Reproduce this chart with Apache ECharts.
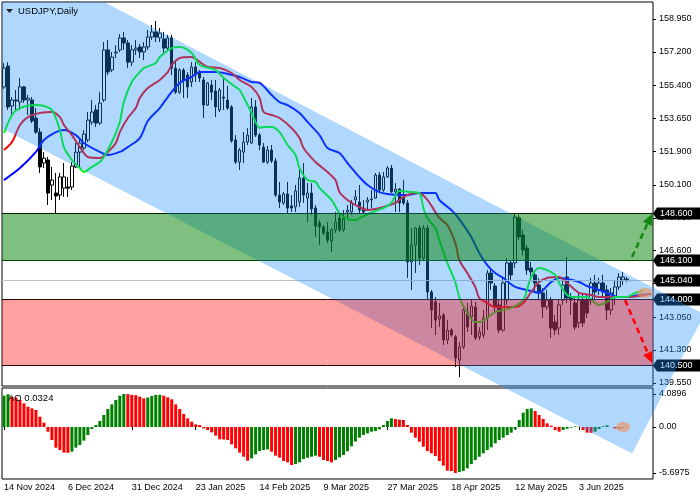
<!DOCTYPE html>
<html><head><meta charset="utf-8">
<script src="https://cdn.jsdelivr.net/npm/echarts@6/dist/echarts.min.js"></script>
<style>html,body{margin:0;padding:0;background:#fff}#c{width:700px;height:500px}</style>
</head><body><div id="c"></div>
<script>
// ---------- data ----------
const tickLabels = ["14 Nov 2024","6 Dec 2024","31 Dec 2024","23 Jan 2025","14 Feb 2025","9 Mar 2025","27 Mar 2025","18 Apr 2025","12 May 2025","3 Jun 2025"];
const priceTicks = [158.95,157.2,155.4,153.65,151.9,150.1,148.35,146.6,144.85,143.05,141.3,139.55];
const aoTicks = [4.0896,0,-5.6975];
// [open, close, low, high]
const candles = [
[155.33,156.33,155.22,156.60],[156.44,154.26,154.10,156.65],[154.31,154.63,153.83,154.79],[154.63,154.58,154.10,155.16],
[154.52,155.33,154.10,155.80],[155.33,154.63,154.47,155.38],[154.63,154.73,153.83,154.90],[154.63,153.51,153.40,154.79],
[153.67,152.92,152.82,154.20],[152.92,151.06,150.74,153.13],[151.27,151.53,151.00,151.85],[151.43,149.67,149.03,151.59],
[150.09,150.36,149.30,151.06],[149.67,149.51,148.60,150.74],[149.56,150.53,149.30,150.74],[149.93,150.53,149.46,151.27],
[149.99,149.93,149.46,150.53],[149.99,151.11,149.83,151.32],[151.06,151.85,151.00,152.34],[151.85,152.34,151.06,152.61],
[152.07,152.82,151.96,153.03],[152.50,153.56,152.39,153.99],[153.45,153.99,153.30,154.63],[154.10,153.40,153.19,154.36],
[153.40,154.47,153.30,155.05],[154.63,157.30,154.52,157.72],[157.30,156.12,155.96,157.83],[156.23,156.92,156.12,157.19],
[157.14,157.19,156.87,157.56],[157.30,157.94,157.19,158.15],[157.94,157.67,157.30,158.26],[157.67,156.65,156.33,157.83],
[156.65,157.30,156.44,157.56],[157.30,157.40,157.03,157.83],[157.46,157.19,156.87,157.62],[157.19,157.46,156.76,157.72],
[157.46,157.99,157.30,158.36],[157.99,158.26,157.83,158.63],[158.26,157.99,157.72,158.84],[157.94,158.20,157.72,158.47],
[157.88,157.40,157.03,158.26],[157.40,157.94,157.30,158.10],[157.94,156.33,155.96,158.10],[156.33,155.05,154.95,156.65],
[155.05,156.23,154.95,156.33],[156.23,155.70,154.74,156.33],[155.96,155.33,154.74,156.12],[155.59,156.39,155.33,156.65],
[156.39,155.96,155.59,156.65],[156.07,155.80,155.59,156.23],[155.70,154.36,153.67,155.86],[154.36,155.54,154.31,155.59],
[155.43,155.05,154.63,155.70],[155.11,154.26,153.72,155.70],[154.10,155.16,153.99,155.27],[154.79,154.73,154.10,155.80],
[154.63,154.20,154.10,155.38],[154.26,152.45,152.34,154.36],[152.50,151.32,151.22,152.76],[151.32,151.96,150.90,152.07],
[151.85,152.39,151.27,152.92],[152.39,152.76,152.23,153.13],[152.34,154.26,152.30,154.74],[154.26,152.76,152.66,154.63],
[152.76,152.23,151.96,152.87],[152.12,151.32,151.27,152.34],[151.32,151.96,151.22,152.18],[151.96,151.38,151.27,152.23],
[151.38,149.56,149.46,151.53],[149.56,149.19,148.87,150.26],[149.14,149.62,149.03,149.73],[149.62,148.87,148.60,150.26],
[148.98,148.87,148.66,149.56],[148.93,149.78,148.66,150.10],[149.19,150.47,148.93,151.00],[150.47,149.56,149.14,151.27],
[149.40,149.67,148.12,150.20],[149.67,148.82,148.50,150.20],[148.87,147.91,147.33,149.03],[148.07,147.86,146.90,148.23],
[147.86,147.54,147.43,147.96],[147.59,147.16,147.00,148.12],[147.11,147.70,146.53,147.80],[147.70,148.12,147.54,148.66],
[148.34,147.70,147.59,148.66],[147.70,148.28,147.59,148.76],[148.66,148.76,148.34,149.03],[148.66,149.14,148.50,149.30],
[149.30,149.46,149.03,149.83],[149.19,148.76,148.60,150.10],[148.87,148.66,148.60,149.30],[149.19,149.30,148.76,149.46],
[149.30,149.35,148.87,149.83],[149.40,150.63,149.35,150.74],[150.63,149.83,149.73,150.79],[149.83,150.53,149.73,150.79],
[150.53,151.00,150.47,151.11],[151.00,149.73,149.67,151.16],[149.73,149.88,148.66,150.20],[149.88,149.14,148.66,149.93],
[149.46,149.14,149.03,150.36],[149.14,145.99,145.14,149.30],[145.99,146.90,144.50,147.80],[146.90,147.80,145.40,147.86],
[147.80,146.20,145.83,147.96],[146.20,147.80,146.04,147.96],[147.80,144.39,143.96,147.96],[144.39,143.43,142.47,144.50],
[143.86,142.90,142.10,144.12],[142.95,143.11,142.52,143.80],[143.16,141.83,141.56,143.27],[141.83,142.36,141.62,142.90],
[142.36,142.10,142.00,142.47],[142.00,140.87,140.39,142.10],[140.76,141.46,139.85,141.72],[141.46,143.43,141.35,143.70],
[143.32,142.52,142.26,143.80],[143.06,143.64,142.10,143.96],[143.59,141.94,141.83,143.86],[142.00,142.26,141.83,142.52],
[142.10,143.00,141.94,143.43],[143.00,145.40,142.36,145.56],[145.40,144.87,144.50,145.56],[144.71,143.59,143.32,144.87],
[143.70,142.36,142.20,143.96],[142.36,144.87,142.26,145.14],[143.96,145.94,143.70,146.20],[145.94,145.30,145.03,146.10],
[145.94,148.39,145.67,148.55],[148.34,147.33,147.16,148.50],[147.43,146.63,146.36,147.70],[146.74,145.56,145.30,146.90],
[145.67,145.46,145.14,145.99],[145.30,144.87,144.39,145.56],[144.76,144.34,143.96,145.14],[144.34,143.59,143.00,144.60],
[143.59,143.96,143.43,144.50],[143.96,142.47,141.94,144.12],[142.79,142.36,142.10,143.16],[142.47,143.70,142.10,143.96],
[143.96,144.76,143.70,145.14],[145.19,144.07,143.80,146.26],[144.12,143.96,143.16,144.34],[143.80,142.52,142.36,144.07],
[142.74,143.96,142.47,144.34],[143.96,142.74,142.52,144.34],[143.96,143.27,143.00,144.23],[143.96,144.87,143.70,145.14],
[144.87,144.39,143.96,145.30],[144.50,144.87,144.23,145.14],[144.87,144.39,144.07,145.30],[144.50,143.43,142.90,144.76],
[143.43,144.34,143.16,144.60],[144.12,144.66,143.70,145.03],[144.66,145.19,144.50,145.40],[145.03,145.19,144.76,145.46],
[145.08,145.04,144.93,145.19]
];
// moving averages: [bar index, price]
const greenLine = [[0,152.87],[2,153.83],[4,154.20],[8,154.36],[10,154.31],[12,154.10],[14,153.03],[15,152.12],[17,151.43],[19,151.00],[20,150.79],[22,151.06],[24,151.32],[25,151.59],[27,152.39],[29,153.46],[30,154.52],[32,155.59],[34,156.12],[35,156.33],[38,156.60],[39,156.92],[42,157.40],[44,157.46],[47,157.14],[49,156.50],[53,156.23],[55,155.80],[58,155.32],[59,155.16],[61,154.36],[62,153.94],[64,153.14],[65,153.19],[67,153.19],[69,152.92],[71,152.23],[73,151.70],[74,151.00],[76,150.36],[78,150.26],[79,149.94],[82,149.30],[84,148.60],[86,148.28],[88,148.23],[90,148.44],[93,148.71],[95,148.87],[97,149.14],[99,149.78],[102,149.72],[104,149.67],[105,148.87],[106,148.34],[108,147.80],[109,147.16],[111,145.94],[113,144.92],[114,144.12],[116,143.27],[118,142.79],[119,142.79],[123,143.32],[127,143.54],[130,143.96],[132,145.19],[134,145.67],[136,145.56],[138,145.30],[139,144.87],[141,144.23],[143,144.12],[146,144.12],[148,143.80],[149,143.70],[151,143.86],[153,144.12],[156,144.12],[158,144.34],[160,144.44]];
const redLine = [[0,151.96],[2,152.39],[4,153.30],[6,153.72],[9,153.94],[12,153.99],[14,153.72],[15,153.30],[17,152.76],[19,152.12],[21,151.59],[24,151.54],[26,151.86],[28,152.34],[29,152.92],[31,153.67],[33,154.20],[34,154.74],[36,155.27],[39,155.70],[41,156.12],[42,156.50],[44,156.87],[47,156.92],[49,156.66],[51,156.39],[54,156.34],[57,156.07],[59,155.70],[62,155.32],[64,154.74],[65,153.99],[67,153.83],[69,153.67],[72,153.14],[74,152.60],[75,152.07],[78,151.32],[81,150.79],[83,150.36],[84,149.72],[86,149.30],[89,148.92],[91,148.76],[93,148.82],[95,148.92],[98,149.14],[100,149.46],[103,149.67],[104,149.67],[106,149.30],[108,148.66],[109,148.34],[111,147.96],[113,147.00],[114,146.10],[116,145.40],[118,144.66],[119,144.07],[121,143.80],[123,143.59],[128,143.59],[130,143.80],[132,144.39],[134,144.92],[136,145.14],[139,145.19],[141,144.87],[143,144.50],[144,144.34],[147,144.23],[149,144.12],[156,144.12],[161,144.23]];
const blueLine = [[0,150.36],[4,151.00],[8,151.86],[10,152.50],[13,152.92],[15,153.03],[18,152.76],[20,152.34],[24,151.86],[26,151.70],[29,151.86],[31,152.12],[34,152.60],[36,153.51],[39,154.20],[41,154.79],[44,155.54],[47,155.86],[49,156.12],[53,156.12],[56,156.02],[59,155.86],[62,155.59],[64,155.54],[67,154.90],[69,154.52],[71,154.36],[74,153.94],[76,153.46],[79,152.76],[81,152.07],[84,151.80],[86,151.27],[89,150.52],[91,150.10],[94,149.72],[96,149.62],[99,149.56],[101,149.56],[104,149.67],[108,149.67],[109,149.30],[112,148.76],[114,148.28],[117,147.32],[119,146.47],[121,145.83],[123,145.40],[125,145.14],[128,144.66],[131,144.50],[134,144.34],[135,144.50],[137,144.92],[139,145.14],[141,145.08],[144,144.92],[146,144.71],[149,144.50],[151,144.34],[154,144.12],[156,144.12],[159,144.23],[162,144.28]];
const aoValues = [3.88,4.05,3.76,3.64,3.35,2.93,2.52,2.31,2.11,1.28,0.54,-0.58,-1.61,-2.56,-2.85,-3.18,-3.20,-3.06,-2.56,-2.23,
-1.69,-0.99,-0.25,0.25,0.74,1.49,2.23,2.81,3.35,3.88,4.09,4.08,3.97,3.95,3.76,3.55,3.64,3.84,3.97,3.98,
3.88,3.68,3.43,2.81,2.23,1.61,1.07,0.66,0.33,0.25,-0.17,-0.37,-0.66,-1.07,-1.53,-1.55,-1.61,-2.15,-2.64,-3.18,
-3.68,-4.17,-3.88,-3.39,-2.98,-2.85,-2.77,-3.06,-3.55,-3.80,-4.21,-4.38,-4.71,-4.59,-4.38,-3.97,-3.80,-3.68,-3.55,-3.68,
-4.09,-4.21,-4.38,-4.09,-3.76,-3.47,-3.00,-2.40,-1.80,-1.32,-0.99,-0.79,-0.58,-0.50,-0.29,0.25,0.74,1.07,0.99,0.91,
0.87,0.25,-0.70,-1.32,-1.82,-2.44,-2.98,-3.26,-3.60,-4.21,-4.79,-5.41,-5.45,-5.6975,-5.58,-5.45,-5.12,-4.59,-4.09,-3.68,
-3.26,-2.85,-2.52,-2.02,-1.61,-1.32,-0.99,-0.70,-0.29,0.87,1.78,2.23,2.31,1.98,1.49,0.99,0.45,0.17,-0.37,-0.58,
-0.37,-0.21,-0.08,0.08,0.04,-0.37,-0.70,-0.72,-0.58,-0.25,0.08,0.21,0.00,-0.17,-0.21,-0.12,0.0324];
const buyZone = [148.6, 146.1];
const sellZone = [144.0, 140.5];
const lastPrice = 145.04;
const priceBoxes = [148.6, 146.1, 145.04, 144.0, 140.5];
const channelUpper = [[0,162.63],[150,146.01]];
const channelLower = [[0,153.06],[150,136.58]];
const channelEndBar = 157.25;
const upArrow = [[157.25,146.26],[162.25,148.55]];
const downArrow = [[155.5,143.96],[162.25,140.60]];
const mainMark = [160.5,144.34];
const aoMark = [155,0];
const nBars = 163;

// ---------- chart ----------
const FONT = '"Liberation Sans", Arial, sans-serif';
const cats = Array.from({length:nBars}, (_, i) => String(i));
const chart = echarts.init(document.getElementById('c'), null, {renderer:'canvas'});
const showTick = (idx) => idx % 16 === 0 && idx / 16 < tickLabels.length;
const aoData = aoValues.map((v, i) => ({
  value: v,
  itemStyle: {color: (i === 0 || v > aoValues[i-1]) ? '#008000' : '#ff0000'}
}));
chart.setOption({
  animation: false,
  grid: [
    {left:2, top:2, width:651, height:384, show:true, borderColor:'#000', borderWidth:1, backgroundColor:'#fff'},
    {left:2, top:388, width:651, height:91, show:true, borderColor:'#000', borderWidth:1, backgroundColor:'#fff'}
  ],
  xAxis: [
    {type:'category', gridIndex:0, data:cats, boundaryGap:true, axisLine:{show:false}, axisTick:{show:false}, axisLabel:{show:false}},
    {type:'category', gridIndex:1, data:cats, boundaryGap:true, axisLine:{show:false},
     axisTick:{show:true, interval:showTick, alignWithLabel:true, length:3, lineStyle:{color:'#000'}},
     axisLabel:{show:true, interval:showTick, formatter:(v, idx) => tickLabels[idx/16], align:'left', margin:4,
       color:'#000', fontSize:9, fontFamily:FONT}}
  ],
  yAxis: [
    {type:'value', gridIndex:0, position:'right', min:139.377, max:159.857, splitLine:{show:false}, axisLine:{show:false},
     axisTick:{show:true, customValues:priceTicks, length:3, lineStyle:{color:'#000'}},
     axisLabel:{customValues:priceTicks, formatter:(v) => v.toFixed(3), color:'#000', fontSize:9, fontFamily:FONT, margin:6}},
    {type:'value', gridIndex:1, position:'right', min:-6.44, max:4.83, splitLine:{show:false}, axisLine:{show:false},
     axisTick:{show:true, customValues:aoTicks, length:3, lineStyle:{color:'#000'}},
     axisLabel:{customValues:aoTicks, formatter:(v) => v === 0 ? '0.00' : String(v), color:'#000', fontSize:9, fontFamily:FONT, margin:6}}
  ],
  series: [
    {type:'candlestick', xAxisIndex:0, yAxisIndex:0, data:candles, barWidth:3, z:2,
     itemStyle:{color:'rgba(0,0,0,0)', color0:'#000', borderColor:'#000', borderColor0:'#000', borderWidth:1}},
    {type:'line', xAxisIndex:0, yAxisIndex:0, data:blueLine, showSymbol:false, smooth:0.3, z:3, lineStyle:{color:'#0000ff', width:2}},
    {type:'line', xAxisIndex:0, yAxisIndex:0, data:redLine, showSymbol:false, smooth:0.3, z:3, lineStyle:{color:'#ff0000', width:2}},
    {type:'line', xAxisIndex:0, yAxisIndex:0, data:greenLine, showSymbol:false, smooth:0.3, z:3, lineStyle:{color:'#00ff00', width:2}},
    {type:'bar', xAxisIndex:1, yAxisIndex:1, data:aoData, barWidth:3, z:2}
  ]
});

function px(i, p, osc) {
  const f = osc ? {xAxisIndex:1, yAxisIndex:1} : {xAxisIndex:0, yAxisIndex:0};
  const i0 = Math.floor(i), fr = i - i0;
  const a = chart.convertToPixel(f, [i0, p]);
  const b = chart.convertToPixel(f, [i0 + 1, p]);
  return [a[0] + (b[0] - a[0]) * fr, a[1]];
}
const L = 2, R = 653, T = 2;
const g = [];
// price label boxes (under channel)
priceBoxes.forEach(p => {
  const y = Math.round(px(0, p)[1]) + 0.5;
  g.push({type:'polygon', z:5, silent:true, shape:{points:[[R,y],[657,y-6],[700,y-6],[700,y+6],[657,y+6]]}, style:{fill:'#000'}});
  g.push({type:'text', z:6, silent:true, style:{text:p.toFixed(3), x:660, y:y, fill:'#fff', font:'9px ' + FONT, textVerticalAlign:'middle'}});
});
// last price line
{ const y = Math.round(px(0, lastPrice)[1]) + 0.5;
  g.push({type:'line', z:10, silent:true, shape:{x1:L, y1:y, x2:R, y2:y}, style:{stroke:'#c0c0c0', lineWidth:1}}); }
// zone border lines
[[buyZone[0],'#000'],[buyZone[1],'#003300'],[sellZone[0],'#000'],[sellZone[1],'#000']].forEach(([p,c]) => {
  const y = Math.round(px(0, p)[1]) + 0.5;
  g.push({type:'line', z:15, silent:true, shape:{x1:L, y1:y, x2:R, y2:y}, style:{stroke:c, lineWidth:1}});
});
// channel
{
  const u0 = px(channelUpper[0][0], channelUpper[0][1]), u1 = px(channelUpper[1][0], channelUpper[1][1]);
  const l0 = px(channelLower[0][0], channelLower[0][1]), l1 = px(channelLower[1][0], channelLower[1][1]);
  const m = (u1[1] - u0[1]) / (u1[0] - u0[0]);
  const ml = (l1[1] - l0[1]) / (l1[0] - l0[0]);
  const yU = x => u0[1] + (x - u0[0]) * m;
  const yL = x => l0[1] + (x - l0[0]) * ml;
  const xTop = u0[0] + (T - u0[1]) / m;
  const xD = px(channelEndBar, 0)[0];
  const D = [xD, yL(xD)];
  const t = (D[1] - yU(xD)) / (1 + m * m);
  const E = [xD + t * m, D[1] - t];
  g.push({type:'polygon', z:20, silent:true,
    shape:{points:[[L,T],[xTop,T],E,D,[L,yL(L)]]}, style:{fill:'rgba(30,144,255,0.35)'}});
}
// zones fills
[[buyZone,'rgba(0,128,0,0.5)'],[sellZone,'rgba(255,0,0,0.37)']].forEach(([z,c]) => {
  const y1 = Math.round(px(0, z[0])[1]) + 0.5, y2 = Math.round(px(0, z[1])[1]) + 0.5;
  g.push({type:'rect', z:30, silent:true, shape:{x:L, y:y1, width:R - L, height:y2 - y1}, style:{fill:c}});
});
// arrows
function arrow(a, color) {
  const s = px(a[0][0], a[0][1]), e = px(a[1][0], a[1][1]);
  const dx = e[0] - s[0], dy = e[1] - s[1], len = Math.hypot(dx, dy);
  const ux = dx / len, uy = dy / len, hl = 11, hw = 5;
  const b = [e[0] - ux * hl, e[1] - uy * hl];
  g.push({type:'polyline', z:40, silent:true, shape:{points:[s, b]}, style:{stroke:color, lineWidth:2.5, lineDash:[6,4], fill:null}});
  g.push({type:'polygon', z:40, silent:true, shape:{points:[e, [b[0] - uy * hw, b[1] + ux * hw], [b[0] + uy * hw, b[1] - ux * hw]]}, style:{fill:color}});
}
arrow(upArrow, '#118811');
arrow(downArrow, '#ff0000');
// marks
{ const c1 = px(mainMark[0], mainMark[1]);
  g.push({type:'ellipse', z:45, silent:true, shape:{cx:c1[0], cy:c1[1], rx:8, ry:5}, style:{fill:'rgba(240,150,100,0.65)'}});
  const c2 = px(aoMark[0], aoMark[1], true);
  g.push({type:'ellipse', z:45, silent:true, shape:{cx:c2[0], cy:c2[1], rx:7, ry:5}, style:{fill:'rgba(240,150,100,0.65)'}}); }
// titles
g.push({type:'polygon', z:50, silent:true, shape:{points:[[6,9],[13,9],[9.5,13]]}, style:{fill:'#222'}});
g.push({type:'text', z:50, silent:true, style:{text:'USDJPY,Daily', x:18, y:11, fill:'#000', font:'9.5px ' + FONT, textVerticalAlign:'middle'}});
g.push({type:'text', z:50, silent:true, style:{text:'AO 0.0324', x:8, y:398, fill:'#000', font:'9.5px ' + FONT, textVerticalAlign:'middle'}});
chart.setOption({graphic:{elements:g}});
</script>
</body></html>
